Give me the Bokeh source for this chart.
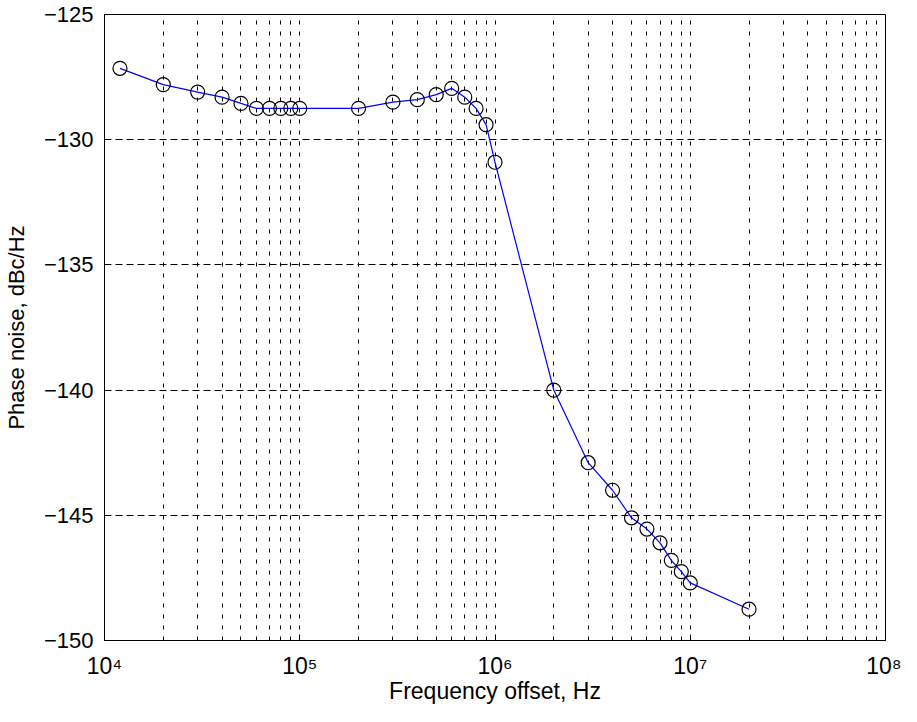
from bokeh.plotting import figure
from bokeh.models import FixedTicker, CustomJSTickFormatter, Range1d
from bokeh.embed import file_html
from bokeh.resources import INLINE

# ---- data ----
freq = [1.2e4, 2e4, 3e4, 4e4, 5e4, 6e4, 7e4, 8e4, 9e4, 1e5,
        2e5, 3e5, 4e5, 5e5, 6e5, 7e5, 8e5, 9e5, 1e6,
        2e6, 3e6, 4e6, 5e6, 6e6, 7e6, 8e6, 9e6, 1e7, 2e7]
phase_noise = [-127.15, -127.8, -128.1, -128.3, -128.55, -128.75, -128.75, -128.75, -128.75, -128.75,
               -128.75, -128.5, -128.4, -128.2, -127.95, -128.3, -128.75, -129.4, -130.9,
               -140.0, -142.9, -144.0, -145.1, -145.55, -146.1, -146.8, -147.25, -147.7, -148.75]

x_ticks = [10**4, 10**5, 10**6, 10**7, 10**8]
x_tick_labels = ["10\u2074", "10\u2075", "10\u2076", "10\u2077", "10\u2078"]
y_ticks = [-150, -145, -140, -135, -130, -125]
y_min, y_max = -150, -125

x_minor = [m * d for d in x_ticks[:-1] for m in range(2, 10)]

FONT = "Liberation Sans"

p = figure(width=901, height=706, x_axis_type="log",
           x_range=Range1d(1e4, 1e8), y_range=Range1d(y_min, y_max),
           output_backend="svg", toolbar_location=None,
           min_border_left=104, min_border_right=16,
           min_border_top=14, min_border_bottom=66)

p.background_fill_color = "white"
p.border_fill_color = "white"
p.outline_line_color = "black"
p.outline_line_width = 1
p.outline_line_alpha = 1

# axes
p.xaxis.ticker = FixedTicker(ticks=x_ticks, minor_ticks=x_minor)
p.xaxis.formatter = CustomJSTickFormatter(
    args=dict(vals=x_ticks, labels=x_tick_labels),
    code="const i = vals.indexOf(tick); return i >= 0 ? labels[i] : '';")
p.yaxis.ticker = FixedTicker(ticks=y_ticks)

for ax in (p.xaxis, p.yaxis):
    ax.axis_line_color = "black"
    ax.major_tick_out = 0
    ax.major_tick_in = 6
    ax.minor_tick_out = 0
    ax.minor_tick_in = 3
    ax.major_tick_line_color = "black"
    ax.minor_tick_line_color = "black"
    ax.major_label_text_font = FONT
    ax.major_label_text_color = "black"
    ax.axis_label_text_font = FONT
    ax.axis_label_text_font_style = "normal"
    ax.axis_label_text_color = "black"

p.xaxis.major_label_text_font_size = "23px"
p.yaxis.major_label_text_font_size = "22px"
p.xaxis.axis_label_text_font_size = "23px"
p.yaxis.axis_label_text_font_size = "22px"

p.xaxis.axis_label = "Frequency offset, Hz"
p.yaxis.axis_label = "Phase noise, dBc/Hz"
p.xaxis.major_label_standoff = 12
p.xaxis.axis_label_standoff = -4
p.yaxis.major_label_standoff = 11
p.yaxis.axis_label_standoff = 12

# grid
p.xgrid.grid_line_color = "black"
p.xgrid.grid_line_dash = "4 7"
p.xgrid.grid_line_width = 1
p.xgrid.minor_grid_line_color = "black"
p.xgrid.minor_grid_line_dash = "4 7"
p.xgrid.minor_grid_line_width = 1
p.ygrid.grid_line_color = "black"
p.ygrid.grid_line_dash = "7 4"
p.ygrid.grid_line_width = 1

# data
p.line(freq, phase_noise, line_color="#0000ff", line_width=1.2)
p.scatter(freq, phase_noise, marker="circle", size=14,
          fill_color=None, line_color="black", line_width=1.2)

open("out.html", "w").write(file_html(p, INLINE))
